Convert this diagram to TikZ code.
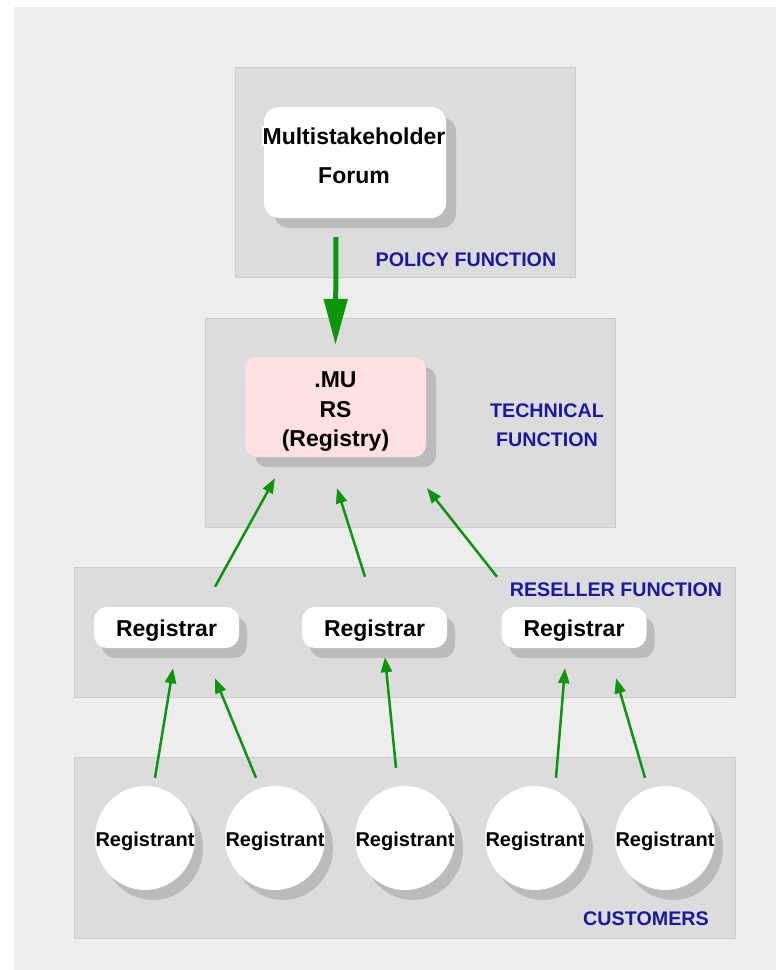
\documentclass[tikz,border=0pt]{standalone}
\usepackage{fontspec}
\setmainfont{Liberation Sans}
\usetikzlibrary{arrows.meta,shadows,shapes.geometric}
\definecolor{bgray}{RGB}{237,237,237}
\definecolor{boxfill}{RGB}{220,220,220}
\definecolor{boxline}{RGB}{204,204,204}
\definecolor{shadowc}{RGB}{187,187,187}
\definecolor{lblue}{RGB}{26,26,156}
\definecolor{agreen}{RGB}{12,150,12}
\definecolor{pinkc}{RGB}{255,224,224}
\newcommand{\lowertext}[2]{\raisebox{0pt}[\dimexpr\height+#1\relax][\depth]{#2}}
\tikzset{
  region/.style={draw=boxline,fill=boxfill,line width=1pt},
  lbl/.style={text=lblue,font=\fontsize{19.7}{29}\selectfont\bfseries,inner sep=0pt,align=center},
  shad/.style={drop shadow={shadow xshift=#1pt,shadow yshift=-10pt,fill=shadowc,opacity=1}},
  forumbox/.style={fill=white,rounded corners=15pt,minimum width=182pt,minimum height=111pt,inner sep=0pt,shad=10},
  regbox/.style={fill=pinkc,rounded corners=12pt,minimum width=181pt,minimum height=100pt,inner sep=0pt,font=\fontsize{23}{29.5}\selectfont\bfseries,shad=10},
  rarbox/.style={fill=white,rounded corners=13pt,minimum width=145pt,minimum height=41pt,inner sep=0pt,font=\fontsize{23}{24}\selectfont\bfseries,shad=8},
  rantbox/.style={ellipse,fill=white,minimum width=100pt,minimum height=104pt,inner sep=0pt,font=\fontsize{20}{22}\selectfont\bfseries,shad=8},
  arr/.style={draw=agreen,line width=2.5pt,-{Triangle[length=15pt,width=11pt]}},
  bigarr/.style={draw=agreen,line width=5pt,-{Triangle[length=46pt,width=23pt]}}
}
\begin{document}
\begin{tikzpicture}[x=1pt,y=-1pt]
\useasboundingbox (0,0) rectangle (776,970);
\fill[white] (0,0) rectangle (776,970);
\fill[bgray] (14,7) rectangle (776,970);
% regions
\draw[region] (235,67) rectangle (575,277);
\draw[region] (205,318) rectangle (615,527);
\draw[region] (74,567) rectangle (735,697);
\draw[region] (74,757) rectangle (735,938);
% labels
\node[lbl] (lpol) at (466,260) {POLICY FUNCTION};
\node[lbl] (ltech) at (547,425) {TECHNICAL\\FUNCTION};
\node[lbl] (lres) at (616,590) {RESELLER FUNCTION};
\node[lbl] (lcus) at (646,919) {CUSTOMERS};
% nodes
\node[forumbox] (forum) at (355,162.5) {};
\node[fill=white,inner xsep=1pt,inner ysep=2pt,font=\fontsize{23}{24}\selectfont\bfseries] (ftxt1) at (354,136) {Multistakeholder};
\node[font=\fontsize{23}{24}\selectfont\bfseries,inner sep=0pt] (ftxt2) at (354,176) {Forum};
\node[regbox] (mu) at (335.5,407) {\lowertext{10pt}{\parbox{170pt}{\centering .MU\\RS\\(Registry)}}};
\node[rarbox] (reg1) at (166.5,627.5) {\lowertext{7pt}{Registrar}};
\node[rarbox] (reg2) at (374.5,627.5) {\lowertext{7pt}{Registrar}};
\node[rarbox] (reg3) at (574,627.5) {\lowertext{7pt}{Registrar}};
\node[rantbox] (rt1) at (145,838) {\makebox[0pt]{\lowertext{6pt}{Registrant}}};
\node[rantbox] (rt2) at (275,838) {\makebox[0pt]{\lowertext{6pt}{Registrant}}};
\node[rantbox] (rt3) at (405,838) {\makebox[0pt]{\lowertext{6pt}{Registrant}}};
\node[rantbox] (rt4) at (535,838) {\makebox[0pt]{\lowertext{6pt}{Registrant}}};
\node[rantbox] (rt5) at (665,838) {\makebox[0pt]{\lowertext{6pt}{Registrant}}};
% arrows
\draw[bigarr] ([xshift=-19pt,yshift=-19pt]forum.south) -- ([yshift=12pt]mu.north);
\draw[arr] ([xshift=48.5pt,yshift=20pt]reg1.north) -- ([xshift=-60.5pt,yshift=-21pt]mu.south);
\draw[arr] ([xshift=-9.5pt,yshift=30pt]reg2.north) -- ([xshift=1.5pt,yshift=-31pt]mu.south);
\draw[arr] ([xshift=-77pt,yshift=30pt]reg3.north) -- ([xshift=91.5pt,yshift=-31pt]mu.south);
\draw[arr] ([xshift=10pt,yshift=8pt]rt1.north) -- ([xshift=6.5pt,yshift=-20pt]reg1.south);
\draw[arr] ([xshift=-19pt,yshift=8pt]rt2.north) -- ([xshift=48.5pt,yshift=-30pt]reg1.south);
\draw[arr] ([xshift=-9pt,yshift=18pt]rt3.north) -- ([xshift=10.5pt,yshift=-9pt]reg2.south);
\draw[arr] ([xshift=21pt,yshift=8pt]rt4.north) -- ([xshift=-9pt,yshift=-20pt]reg3.south);
\draw[arr] ([xshift=-20pt,yshift=8pt]rt5.north) -- ([xshift=42pt,yshift=-30pt]reg3.south);
\end{tikzpicture}
\end{document}
